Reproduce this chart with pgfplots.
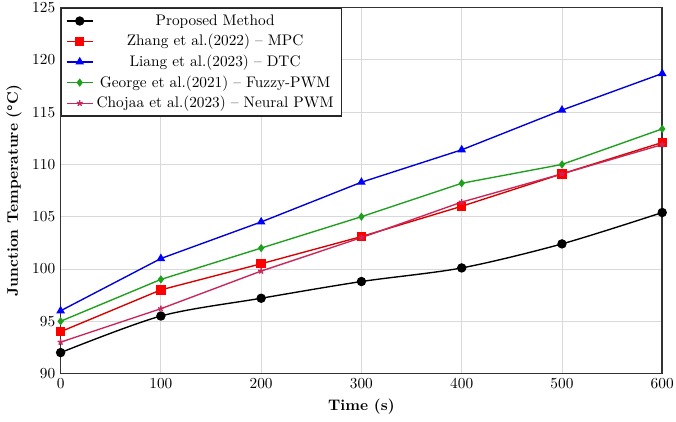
\documentclass[border=0pt]{standalone}
\usepackage{pgfplots}
\pgfplotsset{compat=1.18}
\definecolor{chojaa}{RGB}{200,40,90}
\definecolor{fuzzy}{RGB}{30,160,30}
\begin{document}
\begin{tikzpicture}
\begin{axis}[
  width=393pt, height=239pt,
  scale only axis,
  xmin=0, xmax=600, ymin=90, ymax=125,
  xtick={0,100,...,600},
  ytick={90,95,...,125},
  grid=major,
  grid style={gray!30, line width=0.6pt},
  axis line style={black!80, line width=1pt},
  tick style={draw=none},
  xlabel={\textbf{Time (s)}},
  ylabel={\textbf{Junction Temperature (\textdegree C)}},
  legend style={at={(0,1)}, anchor=north west, draw=black!85, line width=1pt, font=\normalsize, row sep=0.5pt},
  legend cell align=center,
  every axis plot/.append style={line width=0.9pt},
]
\coordinate (sw) at (rel axis cs:0,0);
\coordinate (ne) at (rel axis cs:1,1);
\addplot[black, smooth, mark=*, mark size=2.6pt] coordinates {
(0,92) (100,95.5) (200,97.2) (300,98.8) (400,100.1) (500,102.4) (600,105.4)};
\addplot[red!85!black, mark=square*, mark size=2.6pt, mark options={fill=red, draw=red}] coordinates {
(0,94) (100,98) (200,100.5) (300,103.1) (400,106) (500,109.1) (600,112.1)};
\addplot[blue!85!black, mark=triangle*, mark size=2.4pt, mark options={fill=blue, draw=blue}] coordinates {
(0,96) (100,101) (200,104.5) (300,108.3) (400,111.4) (500,115.2) (600,118.7)};
\addplot[fuzzy, mark=diamond*, mark size=2pt] coordinates {
(0,95) (100,99) (200,102) (300,105) (400,108.2) (500,110) (600,113.4)};
\addplot[chojaa, mark=star, mark size=2pt] coordinates {
(0,93) (100,96.2) (200,99.8) (300,103) (400,106.4) (500,109.1) (600,111.9)};
\legend{Proposed Method, Zhang et al.(2022) -- MPC, Liang et al.(2023) -- DTC, George et al.(2021) -- Fuzzy-PWM, Chojaa et al.(2023) -- Neural PWM}
\end{axis}
\pgfresetboundingbox
\path[use as bounding box] ([xshift=-39.6pt, yshift=-31.2pt]sw) rectangle ([xshift=9pt, yshift=5pt]ne);
\end{tikzpicture}
\end{document}
